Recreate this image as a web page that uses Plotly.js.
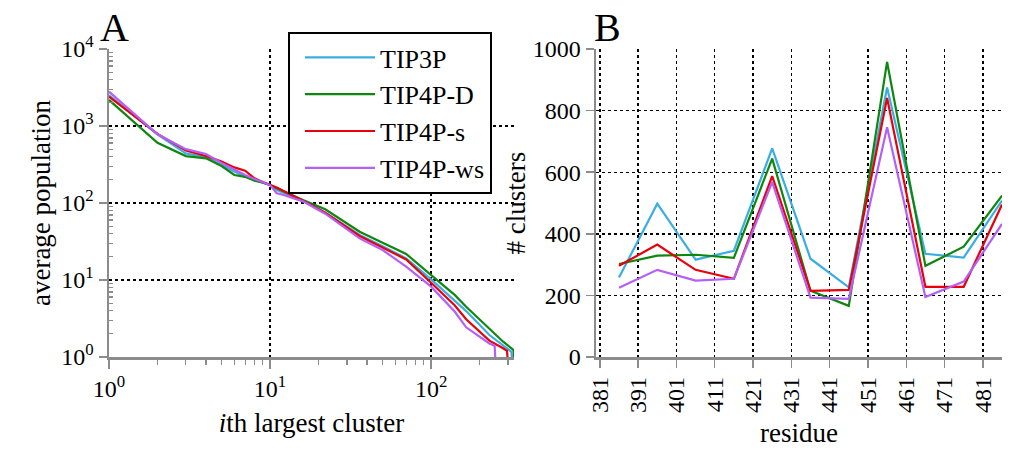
<!DOCTYPE html>
<html>
<head>
<meta charset="utf-8">
<script src="https://cdn.plot.ly/plotly-3.0.1.min.js"></script>
<style>html,body{margin:0;padding:0;background:#fff;}#chart{width:1011px;height:452px;}</style>
</head>
<body>
<div id="chart"></div>
<script>
// ---------- Panel A: average population vs i-th largest cluster ----------
var seriesNames = ['TIP3P', 'TIP4P-D', 'TIP4P-s', 'TIP4P-ws'];
var seriesColors = ['#3aaee2', '#0f870f', '#e8000b', '#b45ff7'];

var rankTIP3P  = [1, 2, 3, 4, 5, 6, 7, 8, 9, 10, 11, 16, 22, 36, 50, 70, 100, 140, 165, 230, 280, 315, 317];
var popTIP3P   = [2500, 780, 440, 395, 310, 257, 219, 200, 186, 171, 147, 107, 75, 38.4, 27.5, 19.1, 10.2, 5.5, 3.95, 1.93, 1.39, 1.17, 1];

var rankTIP4PD = [1, 2, 3, 4, 5, 6, 7, 8, 9, 10, 11, 16, 22, 36, 50, 70, 100, 140, 165, 230, 280, 325, 327];
var popTIP4PD  = [2180, 605, 407, 380, 302, 231, 219, 195, 184, 171, 155, 109, 83, 42.4, 30.5, 21.8, 11.6, 6.4, 4.5, 2.36, 1.58, 1.23, 1];

var rankTIP4Ps = [1, 2, 3, 4, 5, 6, 7, 8, 9, 10, 11, 16, 22, 36, 50, 70, 100, 140, 165, 230, 280, 296, 298];
var popTIP4Ps  = [2400, 790, 480, 407, 345, 290, 263, 209, 187, 171, 159, 107, 75, 37.3, 26.6, 18.5, 9.2, 4.7, 3.09, 1.63, 1.3, 1.2, 1];

var rankTIP4Pws = [1, 2, 3, 4, 5, 6, 7, 8, 9, 10, 11, 12, 16, 22, 36, 50, 70, 100, 140, 165, 230, 248, 250];
var popTIP4Pws  = [2790, 780, 500, 433, 330, 270, 231, 205, 186, 171, 134, 128, 105, 72.6, 34.7, 24.5, 14.9, 8.2, 3.9, 2.43, 1.5, 1.4, 1];

var xTickValsA = [1, 10, 100];
var xTickTextA = ['10<sup>0</sup>', '10<sup>1</sup>', '10<sup>2</sup>'];
var yTickValsA = [1, 10, 100, 1000, 10000];
var yTickTextA = ['10<sup>0</sup>', '10<sup>1</sup>', '10<sup>2</sup>', '10<sup>3</sup>', '10<sup>4</sup>'];

// ---------- Panel B: number of clusters per residue ----------
var residues = [386, 396, 406, 416, 426, 436, 446, 456, 466, 476, 486];
var clTIP3P   = [258, 498, 316, 345, 677, 319, 226, 875, 335, 323, 508];
var clTIP4PD  = [302, 329, 332, 322, 644, 215, 166, 958, 296, 358, 524];
var clTIP4Ps  = [296, 365, 283, 254, 587, 215, 218, 841, 228, 228, 495];
var clTIP4Pws = [225, 283, 248, 254, 568, 193, 189, 746, 195, 245, 432];
var residueTicks = [381, 391, 401, 411, 421, 431, 441, 451, 461, 471, 481];
var clusterTicks = [0, 200, 400, 600, 800, 1000];

var ranksA = [rankTIP3P, rankTIP4PD, rankTIP4Ps, rankTIP4Pws];
var popsA = [popTIP3P, popTIP4PD, popTIP4Ps, popTIP4Pws];
var clB = [clTIP3P, clTIP4PD, clTIP4Ps, clTIP4Pws];

var traces = [];
for (var i = 0; i < seriesNames.length; i++) {
  traces.push({
    type: 'scatter', mode: 'lines', name: seriesNames[i], legendgroup: seriesNames[i],
    x: ranksA[i], y: popsA[i], xaxis: 'x', yaxis: 'y',
    line: {color: seriesColors[i], width: 2.2}
  });
}
for (var j = 0; j < seriesNames.length; j++) {
  traces.push({
    type: 'scatter', mode: 'lines', name: seriesNames[j], legendgroup: seriesNames[j], showlegend: false,
    x: residues, y: clB[j], xaxis: 'x2', yaxis: 'y2',
    line: {color: seriesColors[j], width: 2.2}
  });
}

// minor tick positions for log axes
var minorX = [], minorY = [];
[1, 10, 100].forEach(function (d) { for (var k = 2; k <= 9; k++) { if (k * d < 330) minorX.push(k * d); } });
[1, 10, 100, 1000].forEach(function (d) { for (var k = 2; k <= 9; k++) minorY.push(k * d); });

var FONT = 'Liberation Serif, DejaVu Serif, serif';
var TICK = 24, TITLE = 27;
var axisLine = '#8c8c8c';
var gridCommon = {showgrid: true, gridcolor: '#000', griddash: 'dot', gridwidth: 1.4};

var layout = {
  width: 1011, height: 452,
  margin: {l: 0, r: 0, t: 0, b: 0},
  paper_bgcolor: '#fff', plot_bgcolor: '#fff',
  font: {family: FONT, size: TICK, color: '#000'},
  showlegend: true,
  legend: {
    x: 288 / 1011, y: 1 - 32 / 452, xanchor: 'left', yanchor: 'top',
    bgcolor: '#fff', bordercolor: '#000', borderwidth: 2,
    font: {family: FONT, size: 26, color: '#000'},
    traceorder: 'grouped', tracegroupgap: 0, itemwidth: 70, indentation: 10
  },
  xaxis: Object.assign({}, gridCommon, {
    type: 'log', domain: [109 / 1011, 514 / 1011], range: [0, Math.log10(327)],
    tickmode: 'array', tickvals: xTickValsA, ticktext: xTickTextA,
    ticks: 'outside', ticklen: 9, tickwidth: 1.5, tickcolor: axisLine,
    minor: {tickvals: minorX, ticks: 'outside', ticklen: 5, tickwidth: 1.2, tickcolor: axisLine, showgrid: false},
    showline: true, linecolor: axisLine, linewidth: 2.5, zeroline: false,
    tickfont: {family: FONT, size: TICK},
    title: {text: '<i>i</i>th largest cluster', font: {family: FONT, size: TITLE}, standoff: 12},
    anchor: 'y'
  }),
  yaxis: Object.assign({}, gridCommon, {
    type: 'log', domain: [1 - 357 / 452, 1 - 49 / 452], range: [0, 4],
    tickmode: 'array', tickvals: yTickValsA, ticktext: yTickTextA,
    ticks: 'outside', ticklen: 8, tickwidth: 1.5, tickcolor: axisLine,
    minor: {tickvals: minorY, ticks: 'inside', ticklen: 4, tickwidth: 1.2, tickcolor: axisLine, showgrid: false},
    showline: true, linecolor: axisLine, linewidth: 2.5, zeroline: false,
    tickfont: {family: FONT, size: TICK},
    title: {text: 'average population', font: {family: FONT, size: TITLE}, standoff: 3},
    anchor: 'x'
  }),
  xaxis2: Object.assign({}, gridCommon, {
    domain: [596 / 1011, 1002 / 1011], range: [380, 486],
    tickmode: 'array', tickvals: residueTicks, ticktext: residueTicks.map(String), tickangle: -90,
    ticks: 'outside', ticklen: 8, tickwidth: 1.5, tickcolor: axisLine,
    showline: true, linecolor: axisLine, linewidth: 2.5, zeroline: false,
    tickfont: {family: FONT, size: TICK},
    title: {text: 'residue', font: {family: FONT, size: TITLE}, standoff: 11},
    anchor: 'y2'
  }),
  yaxis2: Object.assign({}, gridCommon, {
    domain: [1 - 357 / 452, 1 - 49 / 452], range: [0, 1000],
    tickmode: 'array', tickvals: clusterTicks, ticktext: clusterTicks.map(String),
    ticks: 'outside', ticklen: 8, tickwidth: 1.5, tickcolor: axisLine,
    showline: true, linecolor: axisLine, linewidth: 2.5, zeroline: false,
    tickfont: {family: FONT, size: TICK},
    title: {text: '# clusters', font: {family: FONT, size: TITLE}, standoff: 0},
    anchor: 'x2'
  }),
  annotations: [
    {text: 'A', xref: 'paper', yref: 'paper', x: 98 / 1011, y: 1 - 28 / 452, xanchor: 'left', yanchor: 'middle',
     showarrow: false, font: {family: FONT, size: 40, color: '#000'}},
    {text: 'B', xref: 'paper', yref: 'paper', x: 592 / 1011, y: 1 - 28 / 452, xanchor: 'left', yanchor: 'middle',
     showarrow: false, font: {family: FONT, size: 40, color: '#000'}}
  ]
};

Plotly.newPlot('chart', traces, layout, {displayModeBar: false, staticPlot: true});
</script>
</body>
</html>
